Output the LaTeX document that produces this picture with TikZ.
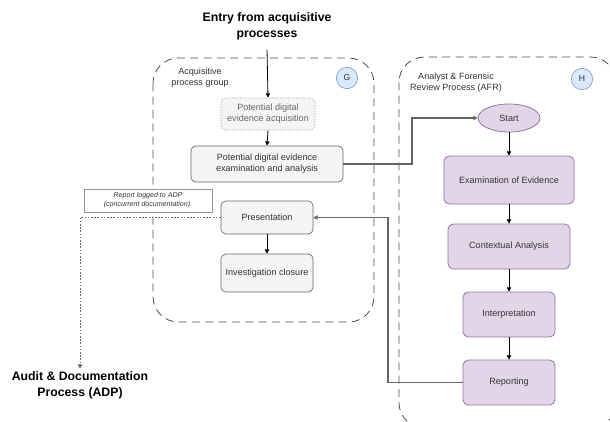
\documentclass[tikz,border=0pt]{standalone}
\usepackage{fontspec}
\setmainfont{Liberation Sans}
\usetikzlibrary{arrows.meta,shapes.geometric}
\definecolor{boxfill}{HTML}{F5F5F5}
\definecolor{boxline}{HTML}{666666}
\definecolor{boxtext}{HTML}{333333}
\definecolor{purfill}{HTML}{E1D5E7}
\definecolor{purline}{HTML}{9673A6}
\definecolor{bluefill}{HTML}{DAE8FC}
\definecolor{blueline}{HTML}{6C8EBF}
\definecolor{grpline}{HTML}{4D4D4D}
\tikzset{
  tip/.style={-{Triangle[length=3.2pt,width=3.2pt]}},
  grp/.style={draw=grpline, line width=0.6pt, dash pattern=on 6pt off 4pt, rounded corners=19pt},
  graybox/.style={draw=boxline, fill=boxfill, text=boxtext, rounded corners=3.5pt, align=center,
    inner sep=1pt, font=\fontsize{6.8}{8.2}\selectfont, line width=0.5pt},
  fadedbox/.style={graybox, draw=boxline!55, dash pattern=on 1pt off 1pt, text=boxtext!75},
  purbox/.style={draw=purline, fill=purfill, text=boxtext, rounded corners=4pt, align=center,
    inner sep=1pt, font=\fontsize{6.8}{8.2}\selectfont, line width=0.6pt},
  badge/.style={circle, draw=blueline, fill=bluefill, minimum size=16pt, inner sep=0pt,
    font=\fontsize{6.5}{7}\selectfont, text=boxtext},
  grplabel/.style={align=center, font=\fontsize{6.8}{8.2}\selectfont, text=boxtext},
  bigtitle/.style={align=center, font=\bfseries\fontsize{9.2}{11.8}\selectfont},
  notebox/.style={draw=boxline!70, fill=white, align=center, inner sep=1pt, line width=0.4pt,
    font=\itshape\fontsize{5.3}{6.6}\selectfont, text=boxtext},
  flow/.style={tip, draw=black, line width=0.6pt},
  cross/.style={tip, draw=boxline, line width=0.9pt},
  doc/.style={tip, draw=boxline, line width=0.6pt, dash pattern=on 1.2pt off 1.2pt},
}
\begin{document}
\begin{tikzpicture}[x=0.75pt,y=-0.75pt]
\useasboundingbox (0,0) rectangle (610,421);

% process groups
\draw[grp] (153,58) rectangle (374,322);
\begin{scope}
  \clip (0,0) rectangle (610,421);
  \draw[grp] (399,57) rectangle (616,428);
\end{scope}
\node[grplabel] (glabel) at (200,78) {Acquisitive\\process group};
\node[grplabel] (hlabel) at (456,83) {Analyst \& Forensic\\Review Process (AFR)};
\node[badge] (g) at (347,78) {G};
\node[badge] (h) at (582,79) {H};

% outer terminals
\node[bigtitle] (entry) at (267,26) {Entry from acquisitive\\processes};
\node[bigtitle] (audit) at (80,385) {Audit \& Documentation\\Process (ADP)};

% acquisitive steps
\node[fadedbox, minimum width=94*0.75pt, minimum height=32*0.75pt] (acq) at (268,114)
  {Potential digital\\evidence acquisition};
\node[graybox, minimum width=152*0.75pt, minimum height=36*0.75pt] (exam) at (267,164)
  {Potential digital evidence\\examination and analysis};
\node[graybox, minimum width=92*0.75pt, minimum height=33*0.75pt] (pres) at (267,217.5)
  {Presentation};
\node[graybox, minimum width=92*0.75pt, minimum height=38*0.75pt] (close) at (267,273)
  {Investigation closure};

% review steps
\node[ellipse, draw=purline, fill=purfill, text=boxtext, line width=0.6pt,
  minimum width=62*0.75pt, minimum height=28*0.75pt, inner sep=0pt,
  font=\fontsize{6.8}{8.2}\selectfont] (start) at (509,118) {Start};
\node[purbox, minimum width=130*0.75pt, minimum height=48*0.75pt] (ev) at (509,180)
  {Examination of Evidence};
\node[purbox, minimum width=122*0.75pt, minimum height=45*0.75pt] (ctx) at (509,246.5)
  {Contextual Analysis};
\node[purbox, minimum width=92*0.75pt, minimum height=45*0.75pt] (interp) at (509,314.5)
  {Interpretation};
\node[purbox, minimum width=92*0.75pt, minimum height=45*0.75pt] (rep) at (509,382.5)
  {Reporting};

% documentation link
\coordinate (docturn) at (80,217.5);
\draw[doc] (pres.west) -- (docturn) -- ([yshift=-1.5pt]audit.north);
\node[notebox, minimum width=128*0.75pt, minimum height=23*0.75pt] (note) at (148,200.5)
  {Report logged to ADP\\(concurrent documentation).};

% connectors
\draw[flow] (entry.south) ++(0,-4pt) -- (acq.north);
\draw[flow] (acq.south) -- (exam.north);
\draw[flow] (pres.south) -- (close.north);
\draw[flow] (start.south) -- (ev.north);
\draw[flow] (ev.south) -- (ctx.north);
\draw[flow] (ctx.south) -- (interp.north);
\draw[flow] (interp.south) -- (rep.north);
\draw[cross] (exam.east) -- (412,164) |- (start.west);
\draw[cross] (rep.west) -- (388,382.5) |- (pres.east);
\end{tikzpicture}
\end{document}
